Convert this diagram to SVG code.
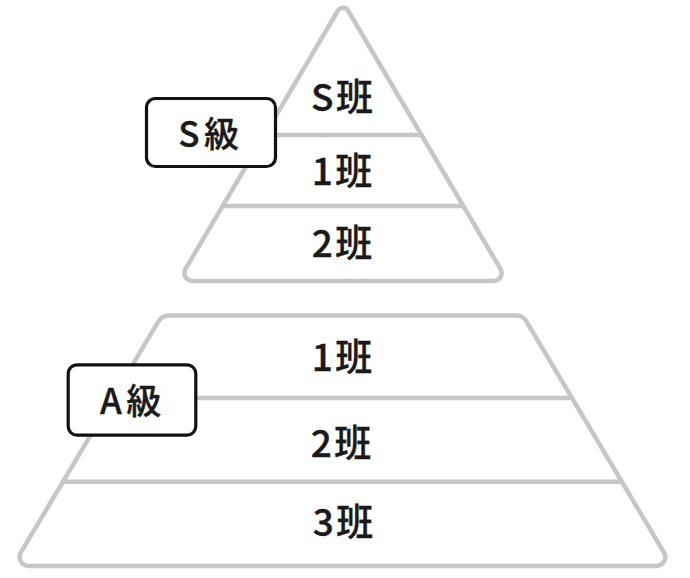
<svg xmlns="http://www.w3.org/2000/svg" width="690" height="578" viewBox="0 0 690 578">
  <style>
    .shape { fill: #ffffff; stroke: #c6c6c6; stroke-width: 4.5; stroke-linejoin: round; }
    .div { stroke: #c6c6c6; stroke-width: 4.5; fill: none; }
    .tier { font-family: "Noto Sans CJK JP", "Noto Sans CJK TC", "Noto Sans", sans-serif; font-size: 37px; font-weight: 500; fill: #1a1a1a; stroke: #1a1a1a; stroke-width: 0.35; text-anchor: middle; letter-spacing: 2.5px; }
    .badge rect { fill: #ffffff; stroke: #111111; stroke-width: 3.2; }
    .badge text { font-family: "Noto Sans CJK JP", "Noto Sans CJK TC", "Noto Sans", sans-serif; font-size: 35px; font-weight: 500; fill: #1a1a1a; stroke: #1a1a1a; stroke-width: 0.35; text-anchor: middle; letter-spacing: 4.5px; }
  </style>
  <rect width="690" height="578" fill="#ffffff"/>

  <g id="s-pyramid">
    <path class="shape" d="M 192.4 281 A 8 8 0 0 1 185.51 268.94 L 337.83 10.76 A 6 6 0 0 1 348.17 10.76 L 500.49 268.94 A 8 8 0 0 1 493.6 281 Z"/>
    <line class="div" x1="264.5" y1="135" x2="421.5" y2="135"/>
    <line class="div" x1="222.6" y1="206" x2="463.4" y2="206"/>
  </g>
  <g id="s-tier-s"><text class="tier" x="343.2" y="111">S班</text></g>
  <g id="s-tier-1"><text class="tier" x="343.2" y="185">1班</text></g>
  <g id="s-tier-2"><text class="tier" x="343.2" y="257">2班</text></g>

  <g id="a-pyramid">
    <path class="shape" d="M 168.73 315.5 L 516.07 315.5 A 12 12 0 0 1 526.39 321.37 L 663.9 552.4 A 9 9 0 0 1 656.17 566 L 28.63 566 A 9 9 0 0 1 20.9 552.4 L 158.41 321.37 A 12 12 0 0 1 168.73 315.5 Z"/>
    <line class="div" x1="112.8" y1="398" x2="572" y2="398"/>
    <line class="div" x1="63" y1="481.7" x2="621.8" y2="481.7"/>
  </g>
  <g id="a-tier-1"><text class="tier" x="343.2" y="370.5">1班</text></g>
  <g id="a-tier-2"><text class="tier" x="342.2" y="456.5">2班</text></g>
  <g id="a-tier-3"><text class="tier" x="344.2" y="535.5">3班</text></g>

  <g id="badge-s" class="badge">
    <rect x="146.5" y="98.5" width="129" height="68" rx="9" ry="9"/>
    <text x="210.8" y="147">S級</text>
  </g>
  <g id="badge-a" class="badge">
    <rect x="68.2" y="364.8" width="127.6" height="70.4" rx="9" ry="9"/>
    <text x="132.8" y="414">A級</text>
  </g>
</svg>
